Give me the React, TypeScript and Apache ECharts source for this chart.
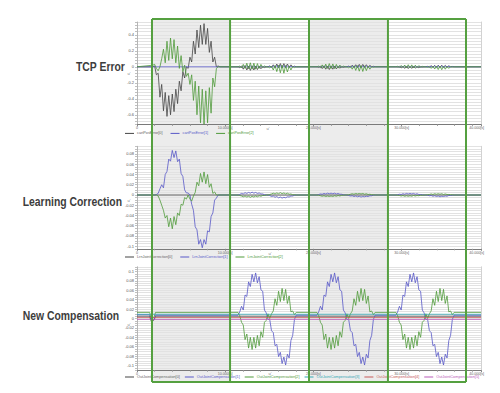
import React, { useEffect, useRef } from "react";
import * as echarts from "echarts";

// ---------- axes ----------
const X_MAX = 39;
const X_TICK_LABELS = ["0", "10.000[s]", "20.000[s]", "30.000[s]"];
const X_END_LABEL = "40.000[s]";
// cycle boundaries (seconds) – the green boxes
const CYCLE_EDGES = [1.7, 10.55, 19.5, 28.45, 37.3];
const FIRST_BURST_START = 1.8; // seconds, cycle-1 bursts
const BURST_OFFSET = 0.9; // seconds after cycle start, later bursts
const STEP = 0.2; // seconds between samples in burst arrays

const TITLES = ["TCP Error", "Learning Correction", "New Compensation"];

const P1_NAMES = ["cartPosError[0]", "cartPosError[1]", "cartPosError[2]"];
const P2_NAMES = ["LrnJointCorrection[0]", "LrnJointCorrection[1]", "LrnJointCorrection[2]"];
const P3_NAMES = [
  "OutJointCompensation[0]",
  "OutJointCompensation[1]",
  "OutJointCompensation[2]",
  "OutJointCompensation[3]",
  "OutJointCompensation[4]",
  "OutJointCompensation[5]",
];

// ---------- TCP Error ----------
const P1_GRAY_C1 = [0, 0.01, -0.1, -0.08, -0.38, -0.22, -0.55, -0.32, -0.62, -0.36, -0.6, -0.34, -0.56, -0.28, -0.46, -0.18, -0.3, -0.06, -0.14, 0, -0.02, 0.12, 0.06, 0.32, 0.16, 0.46, 0.24, 0.52, 0.28, 0.54, 0.28, 0.48, 0.18, 0.32, 0.06, 0.12, 0, 0.01, 0];
const P1_GREEN_C1 = [0.02, 0.03, -0.02, -0.05, 0, 0.1, 0.22, 0.05, 0.32, 0.08, 0.36, 0.1, 0.34, 0.05, 0.26, -0.02, 0.14, -0.06, 0.02, -0.12, -0.08, -0.22, -0.1, -0.42, -0.18, -0.6, -0.24, -0.7, -0.28, -0.72, -0.3, -0.7, -0.26, -0.58, -0.14, -0.25, -0.02, 0, 0];
const P1_GRAY_C2 = [0, -0.01, 0.01, -0.03, 0.015, -0.04, 0.01, -0.045, 0.012, -0.04, 0.01, -0.035, 0.008, -0.025, 0.005, -0.01, 0, 0, 0.01, -0.005, 0.025, -0.008, 0.035, -0.01, 0.04, -0.01, 0.04, -0.008, 0.035, -0.005, 0.025, 0, 0.008, 0];
const P1_GREEN_C2 = [0, 0.01, -0.015, 0.03, -0.02, 0.045, -0.025, 0.05, -0.03, 0.045, -0.03, 0.04, -0.02, 0.03, -0.01, 0.01, 0, 0, -0.015, 0.01, -0.04, 0.015, -0.06, 0.02, -0.075, 0.02, -0.08, 0.015, -0.065, 0.01, -0.04, 0.005, -0.01, 0];
const P1_BLUE_C2 = [0, 0.005, -0.008, 0.012, -0.01, 0.015, -0.012, 0.015, -0.012, 0.014, -0.01, 0.012, -0.01, 0.01, -0.006, 0.004, 0, 0, 0.005, -0.008, 0.012, -0.012, 0.015, -0.014, 0.016, -0.015, 0.015, -0.014, 0.013, -0.01, 0.008, -0.005, 0.003, 0];
const P1_GRAY_C3 = [0, -0.008, 0.008, -0.022, 0.012, -0.03, 0.008, -0.034, 0.01, -0.03, 0.008, -0.026, 0.006, -0.018, 0.004, -0.008, 0, 0, 0.008, -0.004, 0.02, -0.006, 0.026, -0.008, 0.03, -0.008, 0.03, -0.006, 0.026, -0.004, 0.018, 0, 0.006, 0];
const P1_GREEN_C3 = [0, 0.008, -0.012, 0.024, -0.016, 0.034, -0.02, 0.04, -0.022, 0.036, -0.022, 0.03, -0.016, 0.022, -0.008, 0.008, 0, 0, -0.012, 0.008, -0.03, 0.012, -0.045, 0.015, -0.055, 0.015, -0.058, 0.012, -0.048, 0.008, -0.03, 0.004, -0.008, 0];
const P1_BLUE_C3 = [0, 0.004, -0.006, 0.01, -0.008, 0.012, -0.01, 0.012, -0.01, 0.011, -0.008, 0.01, -0.008, 0.008, -0.005, 0.003, 0, 0, 0.004, -0.006, 0.01, -0.01, 0.012, -0.012, 0.013, -0.012, 0.012, -0.011, 0.01, -0.008, 0.006, -0.004, 0.002, 0];
const P1_GRAY_C4 = [0, -0.005, 0.005, -0.014, 0.008, -0.02, 0.006, -0.022, 0.006, -0.02, 0.005, -0.017, 0.004, -0.012, 0.003, -0.005, 0, 0, 0.005, -0.003, 0.013, -0.004, 0.018, -0.005, 0.02, -0.005, 0.02, -0.004, 0.017, -0.003, 0.012, 0, 0.004, 0];
const P1_GREEN_C4 = [0, 0.006, -0.008, 0.016, -0.01, 0.022, -0.013, 0.026, -0.014, 0.024, -0.014, 0.02, -0.01, 0.015, -0.005, 0.005, 0, 0, -0.008, 0.005, -0.02, 0.008, -0.028, 0.01, -0.034, 0.01, -0.036, 0.008, -0.03, 0.005, -0.02, 0.003, -0.005, 0];
const P1_BLUE_C4 = [0, 0.003, -0.005, 0.008, -0.007, 0.01, -0.008, 0.01, -0.008, 0.009, -0.007, 0.008, -0.006, 0.006, -0.004, 0.002, 0, 0, 0.003, -0.005, 0.008, -0.008, 0.01, -0.01, 0.011, -0.01, 0.01, -0.009, 0.008, -0.006, 0.005, -0.003, 0.002, 0];

// ---------- Learning Correction ----------
const P2_BLUE_C1 = [0, 0, 0.001, 0.003, 0.012, 0.02, 0.014, 0.04, 0.046, 0.07, 0.066, 0.087, 0.073, 0.086, 0.065, 0.07, 0.042, 0.036, 0.01, 0.004, 0.004, 0, -0.018, -0.03, -0.062, -0.068, -0.096, -0.087, -0.103, -0.087, -0.096, -0.07, -0.072, -0.042, -0.035, -0.01, -0.006, 0, 0];
const P2_GREEN_C1 = [0, 0, 0, -0.002, -0.01, -0.02, -0.03, -0.045, -0.04, -0.062, -0.045, -0.066, -0.042, -0.058, -0.035, -0.04, -0.018, -0.02, -0.005, -0.008, 0, -0.008, -0.012, -0.002, 0.005, 0.025, 0.018, 0.042, 0.025, 0.045, 0.022, 0.04, 0.015, 0.022, 0.003, 0.006, 0, 0, 0];
const P2_BLUE_C2 = [0, 0.001, 0.003, 0.002, 0.0045, 0.003, 0.005, 0.0035, 0.0055, 0.0035, 0.005, 0.003, 0.004, 0.002, 0.002, 0.0005, 0, 0, -0.001, -0.003, -0.002, -0.0045, -0.003, -0.0055, -0.004, -0.006, -0.0045, -0.0055, -0.0035, -0.004, -0.002, -0.002, -0.0005, 0];
const P2_GREEN_C2 = [0, -0.001, -0.002, -0.0035, -0.002, -0.004, -0.0025, -0.0045, -0.0025, -0.004, -0.002, -0.0035, -0.0015, -0.0025, -0.001, -0.001, 0, 0, 0.001, 0.002, 0.0035, 0.002, 0.004, 0.0025, 0.0045, 0.0025, 0.004, 0.002, 0.0035, 0.0015, 0.002, 0.0005, 0.0005, 0];
const P2_BLUE_C3 = [0, 0.001, 0.002, 0.0015, 0.003, 0.002, 0.0035, 0.0025, 0.0035, 0.0025, 0.0035, 0.002, 0.003, 0.0015, 0.0015, 0.0005, 0, 0, -0.001, -0.002, -0.0015, -0.003, -0.002, -0.0035, -0.0025, -0.004, -0.003, -0.0035, -0.0025, -0.003, -0.0015, -0.0015, -0.0005, 0];
const P2_GREEN_C3 = [0, -0.0005, -0.0015, -0.0025, -0.0015, -0.003, -0.002, -0.003, -0.002, -0.003, -0.0015, -0.0025, -0.001, -0.002, -0.0005, -0.0005, 0, 0, 0.0005, 0.0015, 0.0025, 0.0015, 0.003, 0.002, 0.003, 0.002, 0.003, 0.0015, 0.0025, 0.001, 0.0015, 0.0005, 0.0005, 0];
const P2_BLUE_C4 = [0, 0.0005, 0.0015, 0.001, 0.0025, 0.0015, 0.003, 0.002, 0.003, 0.002, 0.003, 0.0015, 0.0025, 0.001, 0.001, 0.0005, 0, 0, -0.0005, -0.0015, -0.001, -0.0025, -0.0015, -0.003, -0.002, -0.0035, -0.0025, -0.003, -0.002, -0.0025, -0.001, -0.001, -0.0005, 0];
const P2_GREEN_C4 = [0, -0.0005, -0.001, -0.002, -0.001, -0.0025, -0.0015, -0.0025, -0.0015, -0.0025, -0.001, -0.002, -0.001, -0.0015, -0.0005, -0.0005, 0, 0, 0.0005, 0.001, 0.002, 0.001, 0.0025, 0.0015, 0.0025, 0.0015, 0.0025, 0.001, 0.002, 0.001, 0.001, 0.0005, 0.0005, 0];

// ---------- New Compensation ----------
const P3_BLUE_BURST = [0.007, 0.014, 0.026, 0.018, 0.05, 0.047, 0.078, 0.068, 0.094, 0.078, 0.097, 0.076, 0.089, 0.061, 0.058, 0.018, 0.012, -0.002, -0.002, -0.026, -0.03, -0.058, -0.055, -0.081, -0.072, -0.096, -0.082, -0.099, -0.076, -0.084, -0.047, -0.036, -0.002, 0.007];
const P3_GREEN_BURST = [0.013, 0.006, -0.008, -0.014, -0.045, -0.033, -0.063, -0.04, -0.066, -0.04, -0.063, -0.036, -0.058, -0.028, -0.04, -0.008, -0.004, 0.01, 0, 0.01, 0.016, 0.042, 0.028, 0.058, 0.036, 0.064, 0.038, 0.062, 0.032, 0.048, 0.014, 0.016, 0.008, 0.013];
const P3_BURST_CYCLES = [1, 2, 3];
const P3_GRAY_LEAD = [[0, 0.005], [1.45, 0.005], [1.55, -0.004], [1.75, -0.005], [1.95, -0.003], [2.1, 0.005]];
const P3_BLUE_LEAD = [[0, 0.008], [1.45, 0.008], [1.55, -0.002], [1.75, -0.004], [1.95, -0.001], [2.1, 0.007]];
const P3_GREEN_LEAD = [[0, 0.013], [1.45, 0.013], [1.55, 0.002], [1.75, 0], [1.95, 0.004], [2.1, 0.013]];
const P3_GRAY_LEVEL = 0.005;
const P3_BLUE_LEVEL = 0.007;
const P3_GREEN_LEVEL = 0.013;
const P3_CYAN_LEVEL = 0.009;
const P3_RED_LEVEL = 0.002;
const P3_MAGENTA_LEVEL = -0.002;

const C = {
  gray: "#454545",
  blue: "#5858c8",
  green: "#4f9a3a",
  cyan: "#35a8b4",
  red: "#c65a5a",
  magenta: "#b85ab8",
};

function burst(start: number, values: number[]): number[][] {
  return values.map((v, i) => [Math.round((start + i * STEP) * 1000) / 1000, v]);
}
function later(cycle: number, values: number[]) {
  return burst(CYCLE_EDGES[cycle] + BURST_OFFSET, values);
}

function isMult(v: number, s: number) {
  return Math.abs(v / s - Math.round(v / s)) < 1e-6;
}

function yAxis(gridIndex: number, min: number, max: number, interval: number, labelStep: number) {
  return {
    type: "value",
    gridIndex,
    min,
    max,
    interval,
    axisLine: { show: true, lineStyle: { color: "#b5b5b5", width: 1 } },
    axisTick: { show: true, length: 2, lineStyle: { color: "#c0c0c0" } },
    axisLabel: {
      fontSize: 4,
      color: "#555",
      margin: 3,
      fontFamily: "Liberation Sans, Arial, sans-serif",
      formatter: (v: number) => (isMult(v, labelStep) ? String(Math.round(v * 1000) / 1000) : ""),
    },
    splitLine: { show: true, lineStyle: { color: "#e2e2e2", width: 1 } },
  };
}
function rightAxis(gridIndex: number) {
  return {
    type: "value",
    gridIndex,
    position: "right",
    axisLine: { show: true, lineStyle: { color: "#d2d2d2" } },
    axisTick: { show: false },
    axisLabel: { show: false },
    splitLine: { show: false },
  };
}
function xAxis(gridIndex: number) {
  return {
    type: "value",
    gridIndex,
    min: 0,
    max: X_MAX,
    interval: 10,
    axisLine: { show: true, onZero: false, lineStyle: { color: "#7a7a7a", width: 1 } },
    axisTick: { show: true, length: 2, lineStyle: { color: "#888" } },
    minorTick: { show: true, splitNumber: 5, length: 1.5, lineStyle: { color: "#999" } },
    axisLabel: {
      fontSize: 3.6,
      color: "#666",
      margin: 2,
      fontFamily: "Liberation Sans, Arial, sans-serif",
      formatter: (v: number) => (isMult(v, 10) ? X_TICK_LABELS[Math.round(v / 10)] || "" : ""),
    },
    splitLine: { show: false },
  };
}

function line(name: string, color: string, xi: number, yi: number, data: number[][], width = 0.8) {
  return {
    type: "line",
    name,
    xAxisIndex: xi,
    yAxisIndex: yi,
    data,
    symbol: "none",
    showSymbol: false,
    clip: true,
    lineStyle: { color, width },
    itemStyle: { color },
  };
}

function legend(names: string[], colors: string[], top: number, gap: number) {
  return {
    left: 125,
    top,
    padding: 0,
    icon: "rect",
    itemWidth: 9,
    itemHeight: 1,
    itemGap: gap,
    selectedMode: false,
    textStyle: { fontSize: 3.8, fontFamily: "Liberation Sans, Arial, sans-serif", padding: [0, 0, 0, -2] },
    data: names.map((n, i) => ({ name: n, textStyle: { color: colors[i] } })),
  };
}

export default function App() {
  const ref = useRef<HTMLDivElement>(null);
  useEffect(() => {
    if (!ref.current) return;
    const chart = echarts.init(ref.current, null, { renderer: "svg" });

    const p1Gray = [[0, 0], ...burst(FIRST_BURST_START, P1_GRAY_C1), ...later(1, P1_GRAY_C2), ...later(2, P1_GRAY_C3), ...later(3, P1_GRAY_C4), [X_MAX, 0]];
    const p1Blue = [[0, 0], ...later(1, P1_BLUE_C2), ...later(2, P1_BLUE_C3), ...later(3, P1_BLUE_C4), [X_MAX, 0]];
    const p1Green = [[0, 0], ...burst(FIRST_BURST_START, P1_GREEN_C1), ...later(1, P1_GREEN_C2), ...later(2, P1_GREEN_C3), ...later(3, P1_GREEN_C4), [X_MAX, 0]];

    const p2Gray = [[0, 0], [X_MAX, 0]];
    const p2Blue = [[0, 0], ...burst(FIRST_BURST_START, P2_BLUE_C1), ...later(1, P2_BLUE_C2), ...later(2, P2_BLUE_C3), ...later(3, P2_BLUE_C4), [X_MAX, 0]];
    const p2Green = [[0, 0], ...burst(FIRST_BURST_START, P2_GREEN_C1), ...later(1, P2_GREEN_C2), ...later(2, P2_GREEN_C3), ...later(3, P2_GREEN_C4), [X_MAX, 0]];

    const p3Gray = [...P3_GRAY_LEAD, [X_MAX, P3_GRAY_LEVEL]];
    const p3Blue = [...P3_BLUE_LEAD, ...P3_BURST_CYCLES.flatMap((c) => later(c, P3_BLUE_BURST)), [X_MAX, P3_BLUE_LEVEL]];
    const p3Green = [...P3_GREEN_LEAD, ...P3_BURST_CYCLES.flatMap((c) => later(c, P3_GREEN_BURST)), [X_MAX, P3_GREEN_LEVEL]];
    const flat = (v: number) => [[0, v], [X_MAX, v]];

    const option: any = {
      animation: false,
      backgroundColor: "#ffffff",
      grid: [
        { left: 137, top: 22, width: 344, height: 102.4 },
        { left: 137, top: 146.3, width: 344, height: 102.5 },
        { left: 137, top: 266.8, width: 344, height: 103.4 },
      ],
      xAxis: [xAxis(0), xAxis(1), xAxis(2)],
      yAxis: [
        yAxis(0, -0.72, 0.56, 0.04, 0.2),
        yAxis(1, -0.105, 0.095, 0.005, 0.02),
        yAxis(2, -0.11, 0.11, 0.005, 0.02),
        rightAxis(0),
        rightAxis(1),
        rightAxis(2),
      ],
      legend: [
        legend(P1_NAMES, ["#666", C.blue, C.green], 131.4, 8),
        legend(P2_NAMES, ["#666", C.blue, C.green], 255, 8),
        legend(P3_NAMES, ["#666", C.blue, C.green, C.cyan, C.red, C.magenta], 375, 5),
      ],
      series: [
        line(P1_NAMES[0], C.gray, 0, 0, p1Gray),
        line(P1_NAMES[1], C.blue, 0, 0, p1Blue),
        line(P1_NAMES[2], C.green, 0, 0, p1Green),
        line(P2_NAMES[0], C.gray, 1, 1, p2Gray),
        line(P2_NAMES[1], C.blue, 1, 1, p2Blue),
        line(P2_NAMES[2], C.green, 1, 1, p2Green),
        line(P3_NAMES[0], C.gray, 2, 2, p3Gray),
        line(P3_NAMES[1], C.blue, 2, 2, p3Blue),
        line(P3_NAMES[2], C.green, 2, 2, p3Green),
        line(P3_NAMES[3], C.cyan, 2, 2, flat(P3_CYAN_LEVEL)),
        line(P3_NAMES[4], C.red, 2, 2, flat(P3_RED_LEVEL)),
        line(P3_NAMES[5], C.magenta, 2, 2, flat(P3_MAGENTA_LEVEL)),
      ],
    };
    chart.setOption(option);

    const xs = CYCLE_EDGES.map((t) => chart.convertToPixel({ xAxisIndex: 0 }, t) as number);
    const yTop = 19;
    const yBot = 382;
    const frameColor = "#55a040";
    const graphic: any[] = [];
    [0, 2].forEach((i) => {
      graphic.push({
        type: "rect",
        z: -1,
        silent: true,
        shape: { x: xs[i], y: yTop, width: xs[i + 1] - xs[i], height: yBot - yTop },
        style: { fill: "#ececec" },
      });
    });
    xs.forEach((x) => {
      graphic.push({ type: "line", z: 100, silent: true, shape: { x1: x, y1: yTop, x2: x, y2: yBot }, style: { stroke: frameColor, lineWidth: 2 } });
    });
    graphic.push({ type: "line", z: 100, silent: true, shape: { x1: xs[0], y1: yTop, x2: xs[4], y2: yTop }, style: { stroke: frameColor, lineWidth: 2 } });
    graphic.push({ type: "line", z: 100, silent: true, shape: { x1: xs[0], y1: yBot, x2: xs[4], y2: yBot }, style: { stroke: frameColor, lineWidth: 2 } });

    const titlePos = [
      [76, 66.5],
      [22.7, 201],
      [22.7, 315.5],
    ];
    TITLES.forEach((t, i) => {
      graphic.push({
        type: "text",
        x: titlePos[i][0],
        y: titlePos[i][1],
        scaleX: 0.8,
        z: 50,
        style: {
          text: t,
          font: 'bold 13px "Liberation Sans", Arial, sans-serif',
          fill: "#3d3d3d",
          align: "left",
          verticalAlign: "middle",
        },
      });
    });
    [128, 252.7, 374].forEach((y) => {
      graphic.push({
        type: "text",
        x: 484,
        y,
        z: 50,
        style: { text: X_END_LABEL, font: '3.6px "Liberation Sans", Arial, sans-serif', fill: "#666", align: "right", verticalAlign: "middle" },
      });
    });
    [[129, 73], [129, 200], [129, 324], [268, 128.5], [270, 253], [270, 373]].forEach(([x, y]) => {
      graphic.push({
        type: "text",
        x,
        y,
        z: 50,
        style: { text: "u'", font: '4px "Liberation Sans", Arial, sans-serif', fill: "#777", align: "center", verticalAlign: "middle" },
      });
    });
    chart.setOption({ graphic });

    return () => chart.dispose();
  }, []);

  return <div ref={ref} style={{ position: "fixed", left: 0, top: 0, width: 500, height: 393 }} />;
}
